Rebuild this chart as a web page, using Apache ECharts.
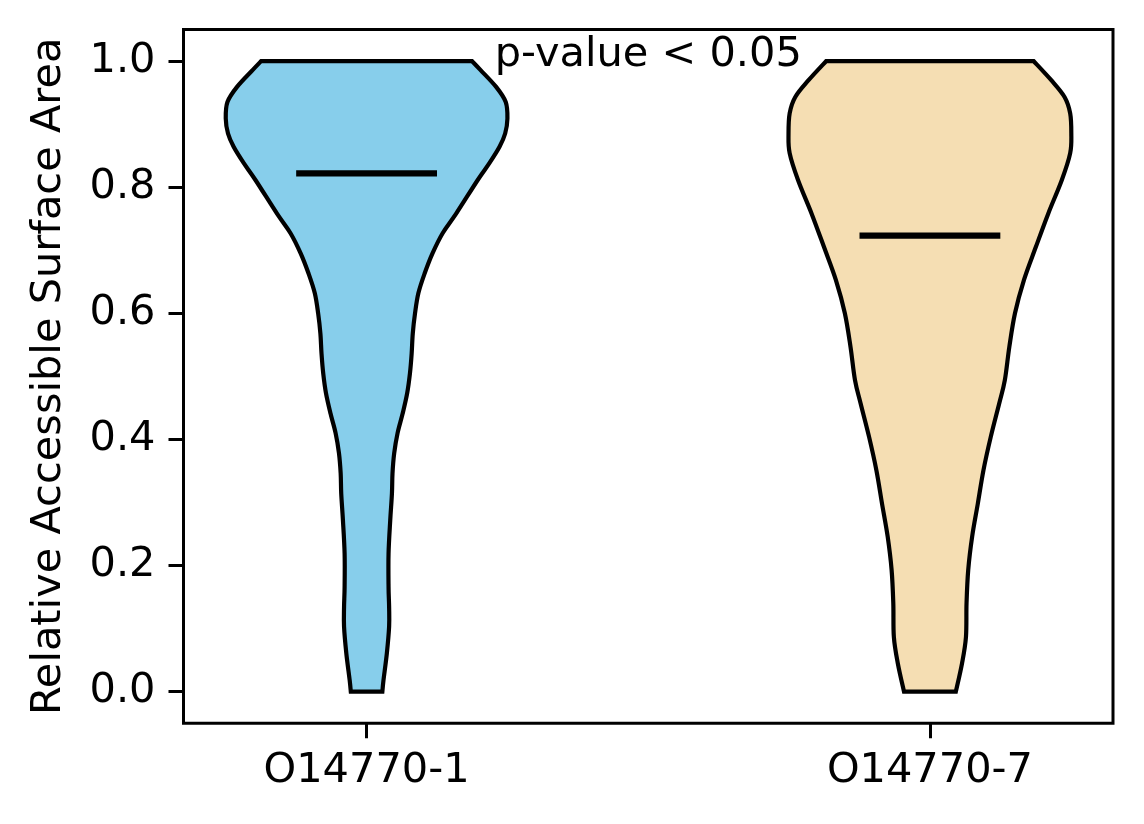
<!DOCTYPE html>
<html>
<head>
<meta charset="utf-8">
<script src="https://cdn.jsdelivr.net/npm/echarts@6/dist/echarts.min.js"></script>
<style>
  html, body { margin: 0; padding: 0; background: #fff; }
  #chart { width: 1144px; height: 824px; }
</style>
</head>
<body>
<div id="chart"></div>
<script>
// ---- data ----
const categories = ['O14770-1', 'O14770-7'];
const positions = [1, 2];
const yTicks = [0, 0.2, 0.4, 0.6, 0.8, 1.0];
const yAxisTitle = 'Relative Accessible Surface Area';
const annotationText = 'p-value < 0.05';
const annotationX = 1.5;
const annotationY = 0.99;

// violin profile: y value and half width (in x-axis units)
const violin1Y = [1.000, 0.986, 0.959, 0.935, 0.909, 0.885, 0.864, 0.838, 0.811, 0.758, 0.727, 0.695, 0.663, 0.632, 0.600, 0.568, 0.536, 0.505, 0.473, 0.441, 0.410, 0.378, 0.346, 0.314, 0.272, 0.219, 0.166, 0.134, 0.103, 0.061, 0.018, 0.000];
const violin1Half = [0.187, 0.202, 0.230, 0.247, 0.250, 0.246, 0.236, 0.218, 0.197, 0.159, 0.135, 0.117, 0.103, 0.092, 0.086, 0.082, 0.080, 0.077, 0.072, 0.064, 0.055, 0.049, 0.046, 0.045, 0.042, 0.039, 0.039, 0.040, 0.040, 0.036, 0.030, 0.028];
const violin2Y = [1.000, 0.970, 0.943, 0.917, 0.885, 0.854, 0.811, 0.758, 0.705, 0.653, 0.600, 0.547, 0.494, 0.457, 0.404, 0.351, 0.298, 0.246, 0.193, 0.140, 0.087, 0.045, 0.000];
const violin2Half = [0.184, 0.215, 0.239, 0.249, 0.251, 0.249, 0.234, 0.210, 0.188, 0.167, 0.151, 0.141, 0.133, 0.123, 0.108, 0.095, 0.085, 0.075, 0.068, 0.065, 0.064, 0.057, 0.046];
const means = [0.822, 0.723];
const meanHalfWidth = 0.125;

// ---- styles ----
const violinColors = ['#87CEEB', '#F5DEB3'];
const FONT = 'DejaVu Sans';
const FS = 41.5;

const profiles = [
  { y: violin1Y, half: violin1Half },
  { y: violin2Y, half: violin2Half }
];

const chart = echarts.init(document.getElementById('chart'), null, { renderer: 'canvas' });

// smooth curve through pixel points (Catmull-Rom as cubic bezier commands)
function curveThrough(pts) {
  let d = '';
  for (let k = 0; k < pts.length - 1; k++) {
    const p0 = pts[Math.max(k - 1, 0)];
    const p1 = pts[k];
    const p2 = pts[k + 1];
    const p3 = pts[Math.min(k + 2, pts.length - 1)];
    const c1x = p1[0] + (p2[0] - p0[0]) / 6;
    const c1y = p1[1] + (p2[1] - p0[1]) / 6;
    const c2x = p2[0] - (p3[0] - p1[0]) / 6;
    const c2y = p2[1] - (p3[1] - p1[1]) / 6;
    d += ' C' + c1x.toFixed(2) + ',' + c1y.toFixed(2) + ' ' + c2x.toFixed(2) + ',' + c2y.toFixed(2) + ' ' + p2[0].toFixed(2) + ',' + p2[1].toFixed(2);
  }
  return d;
}

function renderViolin(params, api) {
  const i = params.dataIndex;
  const pos = api.value(0);
  const mean = api.value(1);
  const prof = profiles[i];
  const left = [];
  const right = [];
  for (let k = 0; k < prof.y.length; k++) {
    left.push(api.coord([pos - prof.half[k], prof.y[k]]));
  }
  for (let k = prof.y.length - 1; k >= 0; k--) {
    right.push(api.coord([pos + prof.half[k], prof.y[k]]));
  }
  let d = 'M' + left[0][0].toFixed(2) + ',' + left[0][1].toFixed(2);
  d += curveThrough(left);
  d += ' L' + right[0][0].toFixed(2) + ',' + right[0][1].toFixed(2);
  d += curveThrough(right);
  d += ' Z';
  const m0 = api.coord([pos - meanHalfWidth, mean]);
  const m1 = api.coord([pos + meanHalfWidth, mean]);
  return {
    type: 'group',
    children: [
      {
        type: 'path',
        shape: { pathData: d },
        style: { fill: violinColors[i], stroke: '#000', lineWidth: 4.2, lineJoin: 'miter' }
      },
      {
        type: 'line',
        shape: { x1: m0[0], y1: m0[1], x2: m1[0], y2: m1[1] },
        style: { stroke: '#000', lineWidth: 6.2 }
      }
    ]
  };
}

function renderText(params, api) {
  const p = api.coord([api.value(0), api.value(1)]);
  return {
    type: 'text',
    x: p[0],
    y: p[1] + 9,
    style: {
      text: annotationText,
      fontFamily: FONT,
      fontSize: FS,
      fill: '#000',
      align: 'center',
      verticalAlign: 'bottom'
    }
  };
}

const option = {
  animation: false,
  grid: {
    left: 183.5, right: 31, top: 29.5, bottom: 100.8,
    show: true, borderColor: '#000', borderWidth: 3, backgroundColor: 'transparent'
  },
  xAxis: {
    type: 'value',
    min: 0.675, max: 2.325,
    axisLine: { show: false, onZero: false },
    splitLine: { show: false },
    axisTick: { show: true, customValues: positions, length: 15, lineStyle: { color: '#000', width: 3 } },
    axisLabel: {
      customValues: positions,
      formatter: v => categories[Math.round(v) - 1],
      fontFamily: FONT, fontSize: FS, color: '#000', margin: 27
    }
  },
  yAxis: {
    type: 'value',
    min: -0.05, max: 1.05,
    name: yAxisTitle,
    nameLocation: 'middle',
    nameGap: 113,
    nameTextStyle: { fontFamily: FONT, fontSize: FS, color: '#000' },
    axisLine: { show: false, onZero: false },
    splitLine: { show: false },
    axisTick: { show: true, customValues: yTicks, length: 15, lineStyle: { color: '#000', width: 3 } },
    axisLabel: {
      customValues: yTicks,
      formatter: v => v.toFixed(1),
      fontFamily: FONT, fontSize: FS, color: '#000', margin: 28
    }
  },
  series: [
    {
      type: 'custom',
      renderItem: renderViolin,
      data: positions.map((p, i) => [p, means[i]]),
      encode: { x: 0, y: 1 },
      clip: false,
      z: 2
    },
    {
      type: 'custom',
      renderItem: renderText,
      data: [[annotationX, annotationY]],
      encode: { x: 0, y: 1 },
      clip: false,
      z: 3
    }
  ]
};
chart.setOption(option);
</script>
</body>
</html>
